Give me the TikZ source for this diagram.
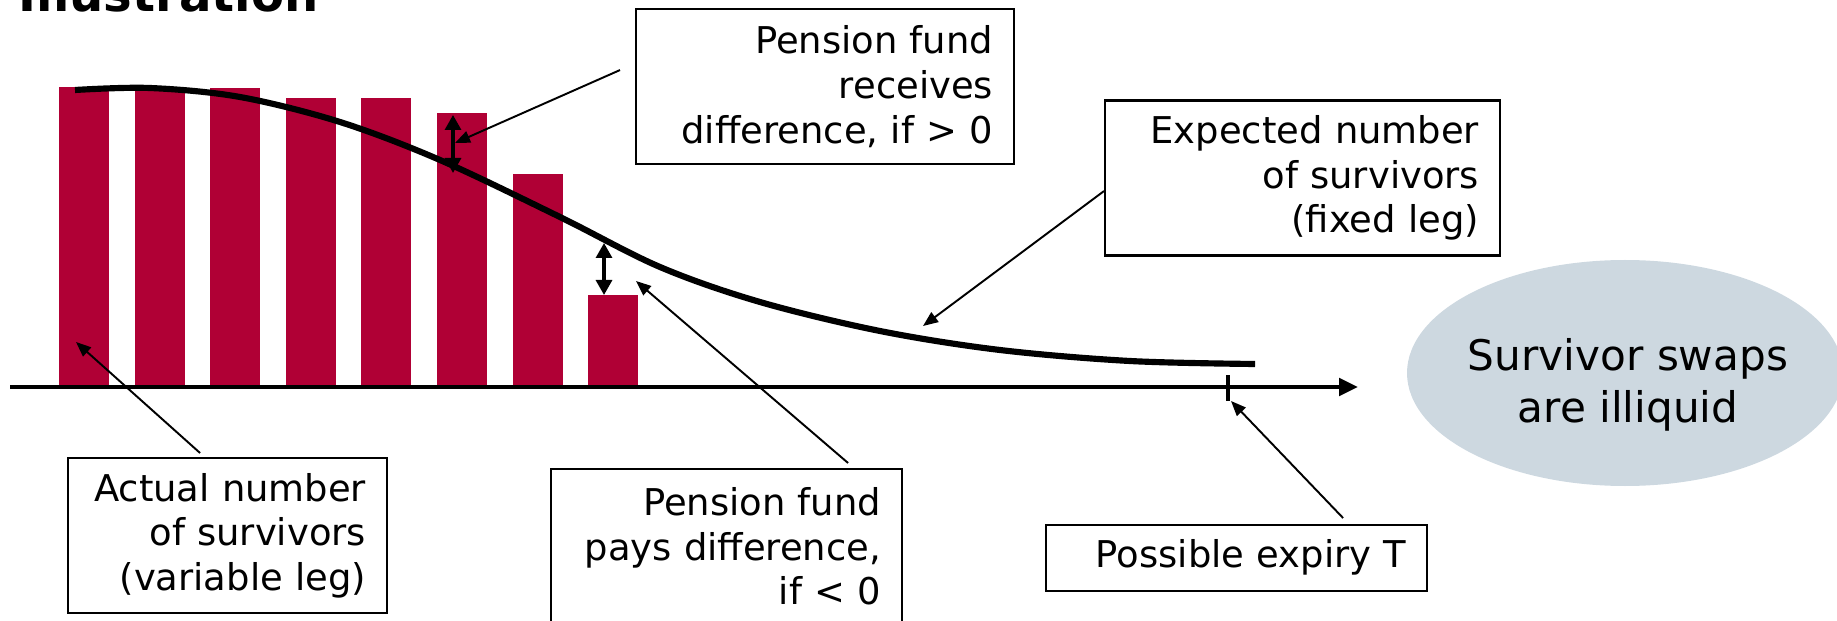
\documentclass[tikz,border=0pt]{standalone}
\usepackage{fontspec}
\setmainfont{DejaVu Sans}
\usetikzlibrary{
  arrows.meta,
  calc,
  shapes.geometric,
}
\tikzstyle{legbox} = [
  draw,
  line width=0.6pt,
  rectangle,
  align=right,
  inner xsep=0.21cm,
  inner ysep=0pt,
  anchor=north west,
  minimum height=1.55cm,
  font=\fontsize{10.5}{12.7}\selectfont,
]
\tikzstyle{pointer} = [
  -{Triangle[length=0.15cm,width=0.12cm]},
  line width=0.55pt,
]
\tikzstyle{diffarrow} = [
  {Triangle[length=0.15cm,width=0.16cm]}-{Triangle[length=0.15cm,width=0.16cm]},
  line width=0.9pt,
]
\definecolor{survred}{RGB}{176, 0, 53}
\definecolor{swapgray}{RGB}{205, 216, 224}

\begin{document}
\begin{tikzpicture}

        \useasboundingbox (0,0) rectangle (18.37,-6.21);
        \clip (0,0) rectangle (18.37,-6.21);

        \node [anchor=base west, inner sep=0, font=\fontsize{13.7}{16}\selectfont\bfseries]
              (title) at (0.18,-0.12) {Illustration};

        \foreach \i/\top in {0/0.87, 1/0.87, 2/0.88, 3/0.98, 4/0.98, 5/1.13, 6/1.74, 7/2.95} {
          \fill [survred] (0.59 + \i * 0.756, -\top) rectangle (1.09 + \i * 0.756, -3.88);
        }

        \draw [line width=1.75pt] plot [smooth, tension=0.55] coordinates {
          (0.75,-0.90) (1.50,-0.88) (2.40,-0.97) (3.40,-1.22) (4.40,-1.60)
          (5.60,-2.17) (6.60,-2.67) (7.60,-3.02) (8.80,-3.31) (10.00,-3.50)
          (11.30,-3.61) (12.55,-3.64)
        };

        \draw [line width=1.4pt, -{Triangle[length=0.19cm,width=0.17cm]}]
              (0.10,-3.87) -- (13.58,-3.87);

        \coordinate (expiry) at (12.28,-4.01);
        \draw [line width=1pt] (12.28,-3.75) -- (expiry);

        \coordinate (gaptop) at (4.53,-1.15);
        \coordinate (gapcurve) at (4.53,-1.73);
        \draw [diffarrow] (gaptop) -- (gapcurve);

        \coordinate (lowcurve) at (6.04,-2.43);
        \coordinate (lowtop) at (6.04,-2.95);
        \draw [diffarrow] (lowcurve) -- (lowtop);

        \node [legbox, text width=3.36cm] (receives) at (6.35,-0.08)
              {Pension fund\\receives\\difference, if > 0};

        \node [legbox, text width=3.53cm] (fixed) at (11.04,-0.995)
              {Expected number\\of survivors\\(fixed leg)};

        \node [legbox, text width=2.77cm] (variable) at (0.67,-4.57)
              {Actual number\\of survivors\\(variable leg)};

        \node [legbox, text width=3.09cm] (pays) at (5.50,-4.68)
              {Pension fund\\pays difference,\\if < 0};

        \node [legbox, text width=3.39cm, minimum height=0.665cm] (expirybox) at (10.45,-5.235)
              {Possible expiry T};

        \coordinate (recvtip) at (4.55,-1.43);
        \coordinate (fixedtip) at (9.23,-3.26);
        \coordinate (vartip) at (0.76,-3.42);
        \coordinate (paystip) at (6.36,-2.81);

        \draw [pointer] ($(receives.west)+(-0.15,0.165)$) -- (recvtip);
        \draw [pointer] ($(fixed.west)+(0,-0.13)$) -- (fixedtip);
        \draw [pointer] ($(variable.north)+(-0.275,0.04)$) -- (vartip);
        \draw [pointer] ($(pays.north)+(1.215,0.05)$) -- (paystip);
        \draw [pointer] ($(expirybox.north)+(1.065,0.055)$) -- ([xshift=0.03cm]expiry);

        \node [ellipse, fill=swapgray, minimum width=4.36cm, minimum height=2.26cm]
              (illiquid) at (16.25,-3.73) {};
        \node [align=center, font=\fontsize{12}{14.7}\selectfont]
              (illiqtext) at (16.28,-3.85) {Survivor swaps\\are illiquid};
      \end{tikzpicture}
\end{document}
